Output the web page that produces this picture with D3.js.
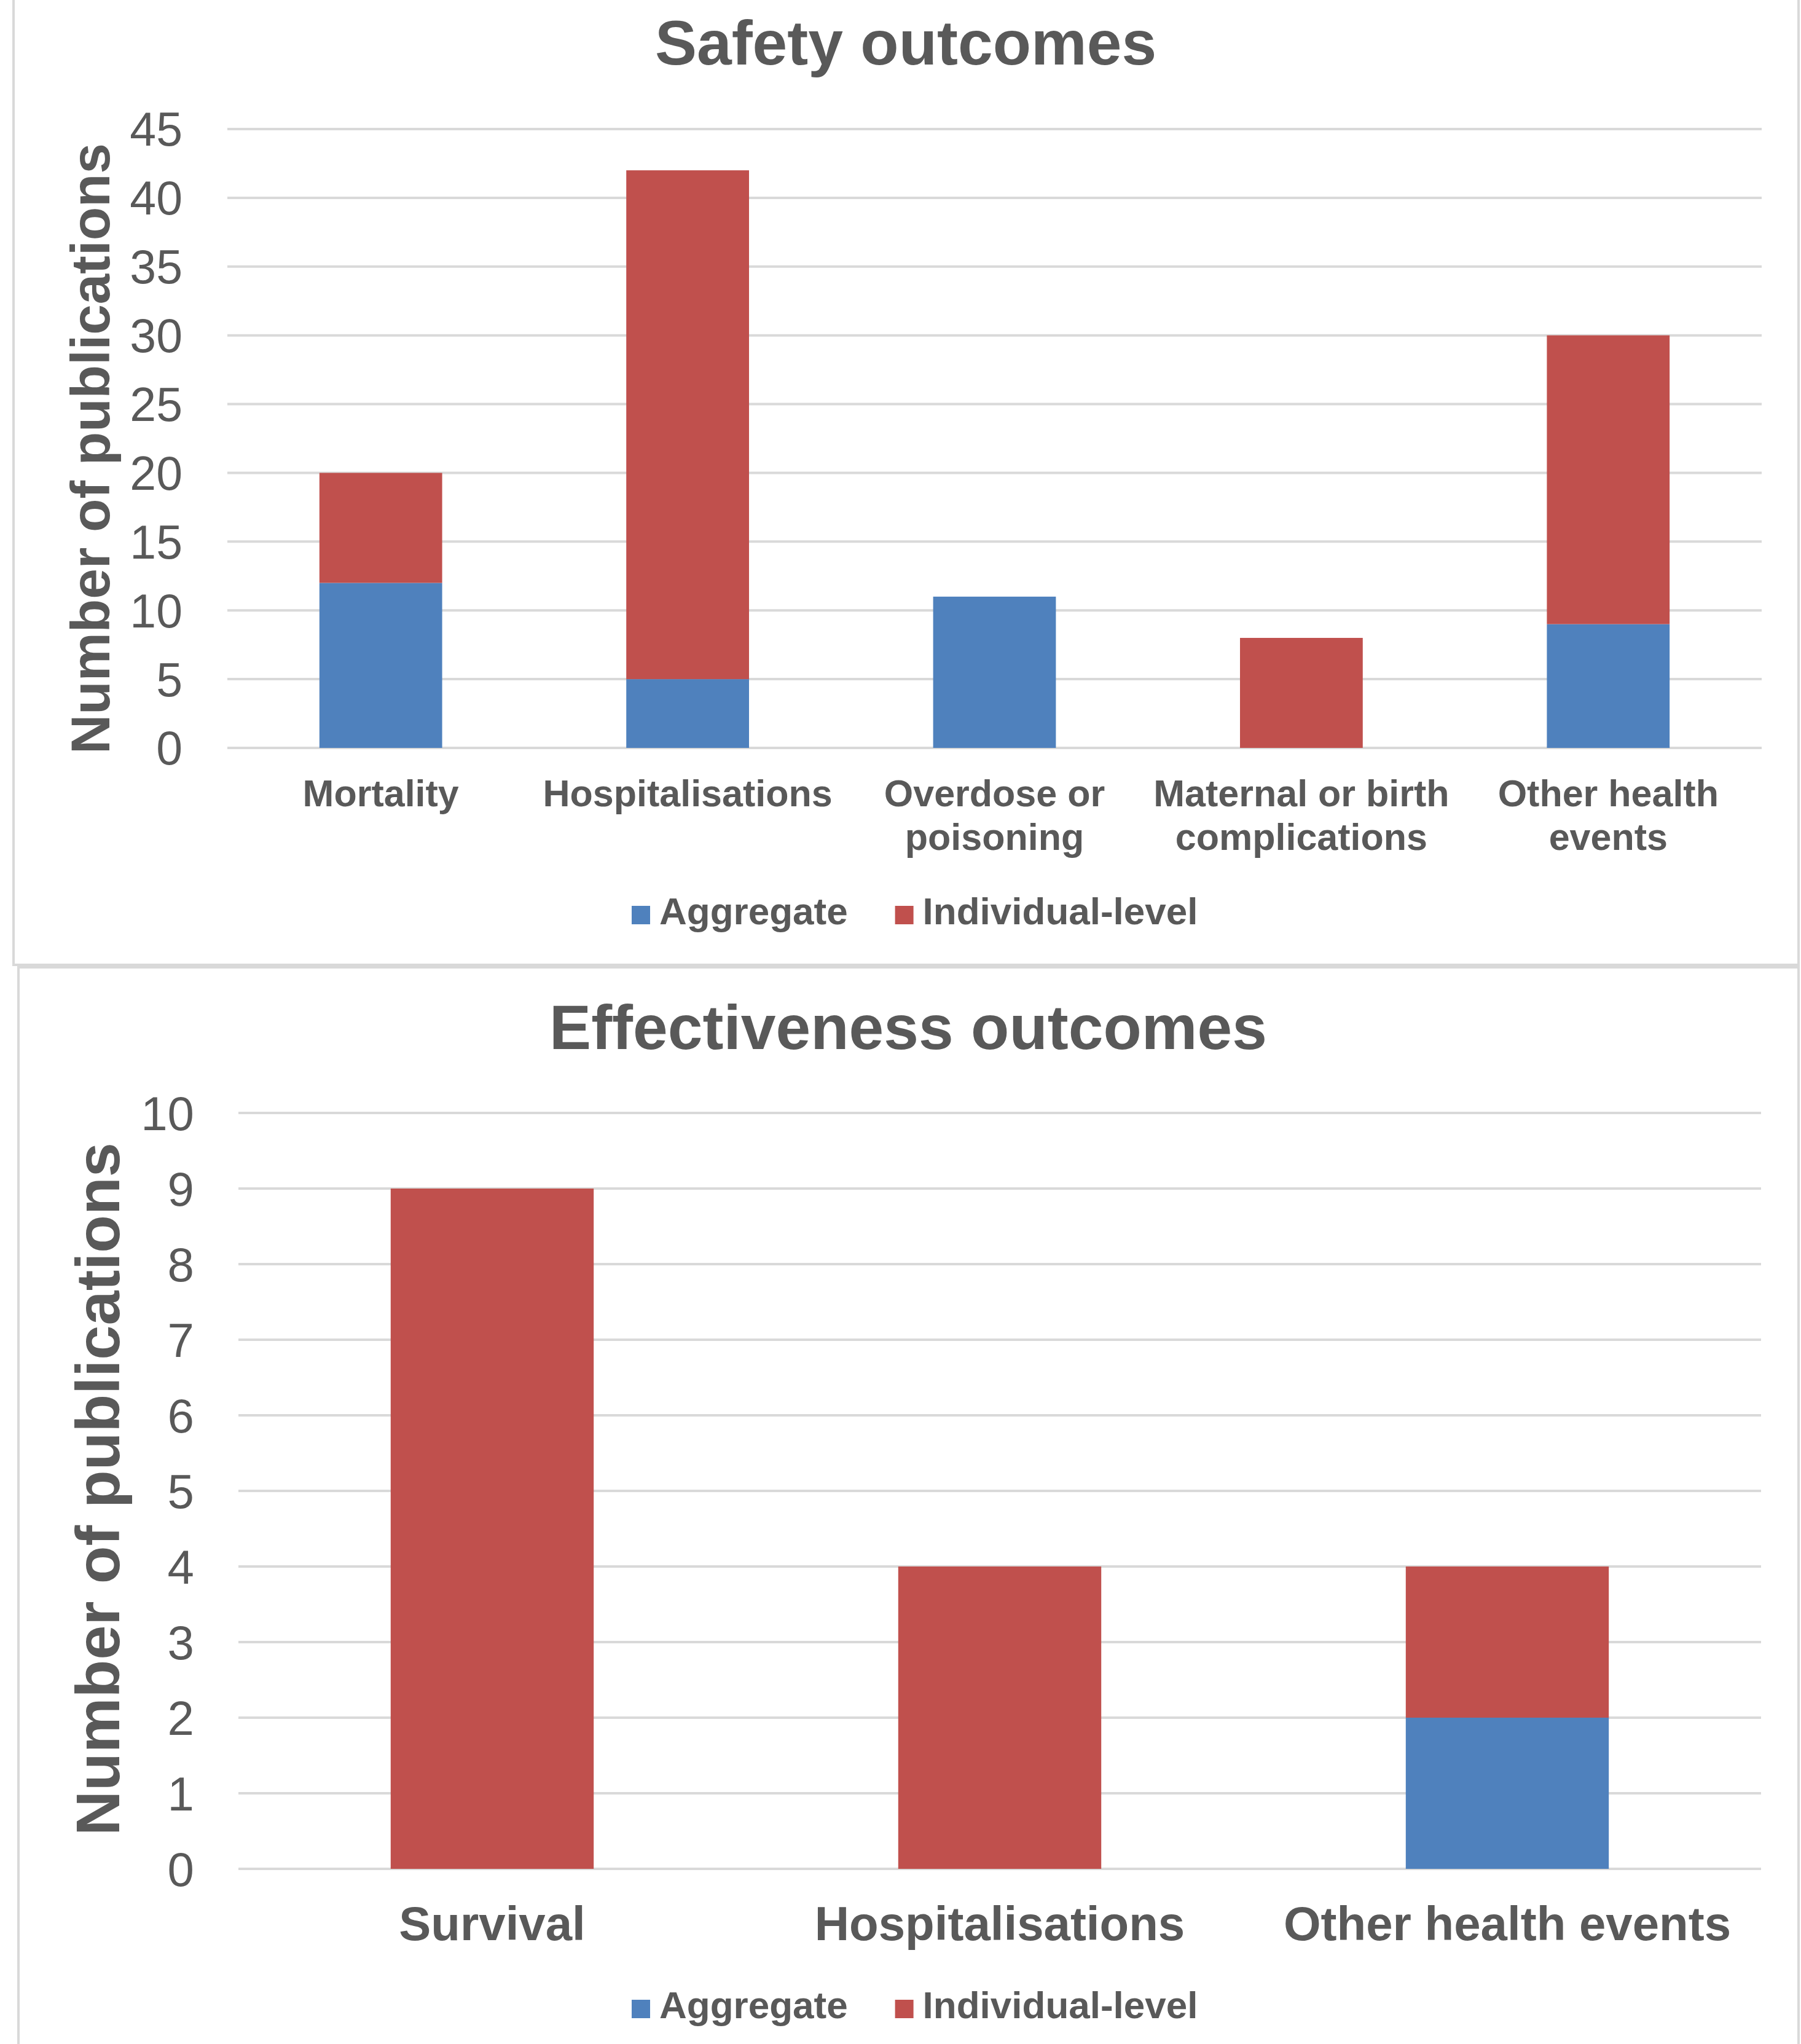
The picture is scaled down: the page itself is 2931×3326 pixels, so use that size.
<!DOCTYPE html>
<html>
<head>
<meta charset="utf-8">
<script src="https://cdn.jsdelivr.net/npm/d3@7"></script>
<style>
  html, body { margin: 0; padding: 0; background: #fff; }
  svg { display: block; }
  text { font-family: "Liberation Sans", Arial, sans-serif; fill: #595959; }
</style>
</head>
<body>
<svg id="chart" width="2931" height="3326"></svg>
<script>
// ---------- Data ----------
const seriesKeys = ["Aggregate", "Individual-level"];
const seriesColors = ["#4F81BD", "#C0504D"];

const safetyCategories = ["Mortality", "Hospitalisations", "Overdose or poisoning", "Maternal or birth complications", "Other health events"];
const safetyLabelLines = [["Mortality"], ["Hospitalisations"], ["Overdose or", "poisoning"], ["Maternal or birth", "complications"], ["Other health", "events"]];
const safetyAggregate = [12, 5, 11, 0, 9];
const safetyIndividual = [8, 37, 0, 8, 21];
const safetyTicks = [0, 5, 10, 15, 20, 25, 30, 35, 40, 45];

const effCategories = ["Survival", "Hospitalisations", "Other health events"];
const effLabelLines = [["Survival"], ["Hospitalisations"], ["Other health events"]];
const effAggregate = [0, 0, 2];
const effIndividual = [9, 4, 2];
const effTicks = [0, 1, 2, 3, 4, 5, 6, 7, 8, 9, 10];

const svg = d3.select("#chart");
svg.append("rect").attr("width", 2931).attr("height", 3326).attr("fill", "#fff");

// panel borders
svg.append("rect").attr("x", 22).attr("y", -10).attr("width", 2905).attr("height", 1580)
  .attr("fill", "none").attr("stroke", "#D9D9D9").attr("stroke-width", 4);
svg.append("rect").attr("x", 30).attr("y", 1574).attr("width", 2897).attr("height", 1800)
  .attr("fill", "none").attr("stroke", "#D9D9D9").attr("stroke-width", 4);

function drawPanel(cfg) {
  const g = svg.append("g");
  const data = cfg.categories.map((c, i) => ({ cat: c, "Aggregate": cfg.agg[i], "Individual-level": cfg.ind[i] }));
  const x = d3.scaleBand().domain(cfg.categories).range([cfg.x0, cfg.x1]).paddingInner(0.6).paddingOuter(0.3);
  const y = d3.scaleLinear().domain([0, d3.max(cfg.ticks)]).range([cfg.y0, cfg.y1]);

  // title
  g.append("text").attr("x", cfg.titleX).attr("y", cfg.titleY).attr("text-anchor", "middle")
    .style("font-size", cfg.titleSize + "px").style("font-weight", "bold").text(cfg.title);

  // gridlines
  g.append("g").selectAll("line").data(cfg.ticks).join("line")
    .attr("x1", cfg.x0).attr("x2", cfg.x1)
    .attr("y1", d => y(d)).attr("y2", d => y(d))
    .attr("stroke", "#D9D9D9").attr("stroke-width", 4);

  // y axis tick labels
  const yAxis = d3.axisLeft(y).tickValues(cfg.ticks).tickSize(0).tickPadding(0);
  const ya = g.append("g").attr("transform", `translate(${cfg.tickRight},0)`).call(yAxis);
  ya.select(".domain").remove();
  ya.selectAll("text").style("font-size", cfg.tickSize + "px").style("font-family", "'Liberation Sans', Arial, sans-serif")
    .attr("fill", "#595959").attr("dy", "0.35em");

  // bars
  const stack = d3.stack().keys(seriesKeys)(data);
  g.append("g").selectAll("g").data(stack).join("g")
    .attr("fill", (d, i) => seriesColors[i])
    .selectAll("rect").data(d => d).join("rect")
    .attr("x", d => x(d.data.cat))
    .attr("width", x.bandwidth())
    .attr("y", d => y(d[1]))
    .attr("height", d => y(d[0]) - y(d[1]));

  // x labels
  cfg.labelLines.forEach((lines, i) => {
    const cx = x(cfg.categories[i]) + x.bandwidth() / 2;
    const t = g.append("text").attr("text-anchor", "middle").attr("x", cx).attr("y", cfg.labelY)
      .style("font-size", cfg.labelSize + "px").style("font-weight", "bold");
    lines.forEach((ln, j) => {
      t.append("tspan").attr("x", cx).attr("y", cfg.labelY + j * cfg.labelLineH).text(ln);
    });
  });

  // y title
  g.append("text").attr("transform", `translate(${cfg.yTitleX},${cfg.yTitleY}) rotate(-90)`)
    .attr("text-anchor", "middle").style("font-size", cfg.yTitleSize + "px").style("font-weight", "bold")
    .text("Number of publications");

  // legend
  const lg = g.append("g");
  let lx = cfg.legendX;
  seriesKeys.forEach((k, i) => {
    lg.append("rect").attr("x", lx).attr("y", cfg.legendY - cfg.legendSq + 4 - 4).attr("width", cfg.legendSq).attr("height", cfg.legendSq)
      .attr("fill", seriesColors[i]);
    const tt = lg.append("text").attr("x", lx + cfg.legendSq + 15).attr("y", cfg.legendY)
      .style("font-size", cfg.legendSize + "px").style("font-weight", "bold").text(k);
    const w = tt.node().getComputedTextLength();
    lx += cfg.legendSq + 15 + w + 77;
  });
}

drawPanel({
  title: "Safety outcomes", titleX: 1474, titleY: 105, titleSize: 102,
  categories: safetyCategories, labelLines: safetyLabelLines,
  agg: safetyAggregate, ind: safetyIndividual, ticks: safetyTicks,
  x0: 370, x1: 2867, y0: 1217, y1: 210,
  tickRight: 297, tickSize: 77,
  labelY: 1312, labelSize: 61, labelLineH: 71,
  yTitleX: 178, yTitleY: 730, yTitleSize: 89,
  legendX: 1028, legendY: 1504, legendSq: 30, legendSize: 62
});

drawPanel({
  title: "Effectiveness outcomes", titleX: 1478, titleY: 1707, titleSize: 102,
  categories: effCategories, labelLines: effLabelLines,
  agg: effAggregate, ind: effIndividual, ticks: effTicks,
  x0: 388, x1: 2866, y0: 3041, y1: 1811,
  tickRight: 316, tickSize: 78,
  labelY: 3157, labelSize: 78, labelLineH: 90,
  yTitleX: 194, yTitleY: 2423, yTitleSize: 101,
  legendX: 1028, legendY: 3284, legendSq: 30, legendSize: 62
});
</script>
</body>
</html>
